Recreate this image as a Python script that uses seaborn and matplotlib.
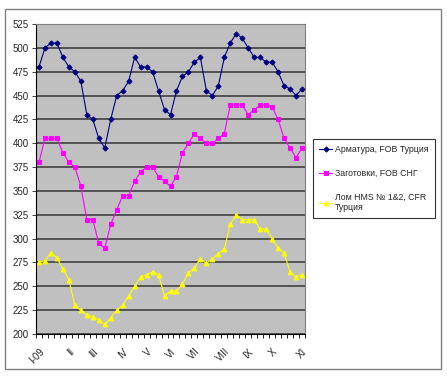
import numpy as np
import pandas as pd
import matplotlib
matplotlib.use("Agg")
import matplotlib.pyplot as plt
from matplotlib.patches import Rectangle
import seaborn as sns

sns.set_style("white")
plt.rcParams["font.family"] = ["Liberation Sans", "DejaVu Sans"]

# weekly prices, USD/t
rebar = [480, 500, 505, 505, 490, 480, 475, 465, 430, 425, 405, 395, 425, 450, 455,
         465, 490, 480, 480, 475, 455, 435, 430, 455, 470, 475, 485, 490, 455, 450,
         460, 490, 505, 515, 510, 500, 490, 490, 485, 485, 475, 460, 457, 450, 457]
billets = [380, 405, 405, 405, 390, 380, 375, 355, 320, 320, 295, 290, 315, 330, 345,
           345, 360, 370, 375, 375, 365, 360, 355, 365, 390, 400, 410, 405, 400, 400,
           405, 410, 440, 440, 440, 430, 435, 440, 440, 438, 425, 405, 395, 385, 395]
scrap = [275, 277, 285, 280, 268, 257, 230, 225, 220, 218, 215, 210, 217, 225, 230,
         240, 250, 260, 262, 265, 262, 240, 245, 245, 252, 264, 269, 279, 274, 279,
         284, 289, 315, 325, 320, 320, 320, 310, 310, 300, 290, 285, 265, 260, 262]

names = ["Арматура, FOB Турция", "Заготовки, FOB СНГ", "Лом HMS № 1&2, CFR\nТурция"]
month_labels = ["I-09", "II", "III", "IV", "V", "VI", "VII", "VIII", "IX", "X", "XI"]
month_pos = [0, 5, 9, 14, 18, 22, 26, 31, 35, 39, 44]

week = np.arange(len(rebar))
df = pd.DataFrame({"week": np.tile(week, 3),
                   "price": rebar + billets + scrap,
                   "series": np.repeat(names, len(week))})

colors = ["#000080", "#FF00FF", "#FFFF00"]
markers = ["D", "s", "^"]
msizes = [2.6, 3.0, 3.4]

fig = plt.figure(figsize=(4.47, 3.79), dpi=100)
fig.patches.append(Rectangle((5 / 447, 1 - 369 / 379), 436 / 447, 360 / 379,
                             transform=fig.transFigure, fill=False,
                             edgecolor="#808080", linewidth=1))
ax = fig.add_axes([36 / 447, 1 - 334 / 379, 269 / 447, 310 / 379])
ax.set_facecolor("#C0C0C0")

for name, c, m, ms in zip(names, colors, markers, msizes):
    sns.lineplot(data=df[df["series"] == name], x="week", y="price", ax=ax,
                 color=c, marker=m, markersize=ms, markeredgecolor=c,
                 linewidth=0.8, label=name)

ax.set_xlim(-0.5, len(week) - 0.5)
ax.set_ylim(200, 525)
ax.set_yticks(np.arange(200, 526, 25))
ax.yaxis.grid(True, color="#404040", linewidth=1.2)
ax.set_axisbelow(True)
ax.set_xticks(month_pos)
ax.set_xticklabels(month_labels, rotation=45, ha="right", va="top",
                   rotation_mode="anchor")
ax.set_xticks(np.arange(-0.5, len(week), 1), minor=True)
ax.tick_params(axis="x", which="major", length=0, pad=9, labelsize=7)
ax.tick_params(axis="x", which="minor", length=3, width=0.6, direction="out",
               bottom=True, color="black")
ax.tick_params(axis="y", length=3, width=0.6, direction="out", left=True,
               labelsize=7, pad=2)
ax.set_xlabel("")
ax.set_ylabel("")
for side in ["top", "right"]:
    ax.spines[side].set_color("#808080")
    ax.spines[side].set_linewidth(0.8)
for side in ["left", "bottom"]:
    ax.spines[side].set_color("black")
    ax.spines[side].set_linewidth(0.8)

leg = ax.legend(loc="upper left", bbox_to_anchor=(313 / 447, 1 - 139 / 379),
                bbox_transform=fig.transFigure, fontsize=6.3, frameon=True,
                fancybox=False, edgecolor="black", handlelength=1.5,
                labelspacing=1.7, borderpad=0.7, borderaxespad=0,
                handletextpad=0.3)
leg.get_frame().set_linewidth(0.8)

fig.savefig("out.png", dpi=100)
